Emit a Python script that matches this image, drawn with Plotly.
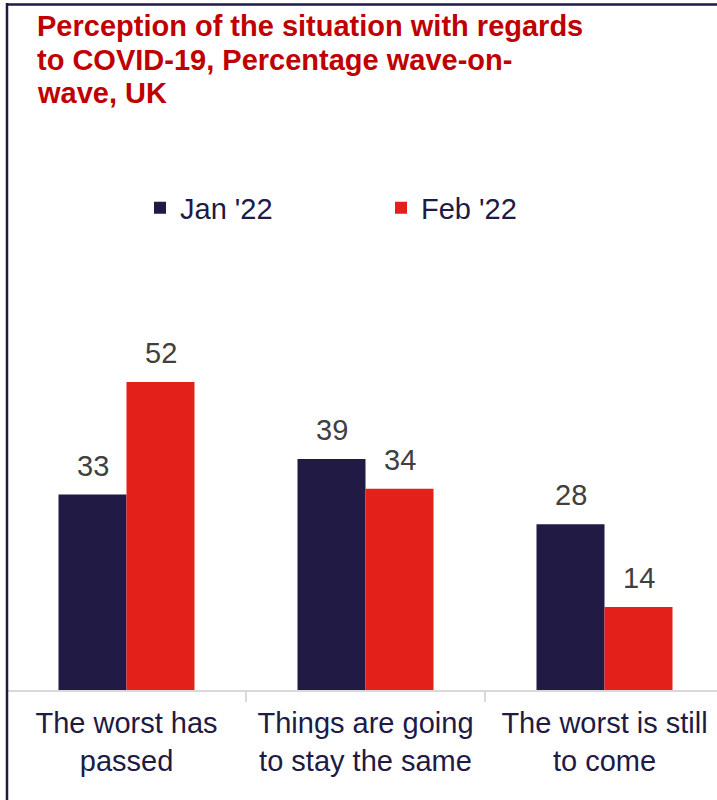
import plotly.graph_objects as go

# Survey answers and the two waves
categories = ["The worst has<br>passed", "Things are going<br>to stay the same", "The worst is still<br>to come"]
series_names = ["Jan '22", "Feb '22"]
jan_values = [33, 39, 28]
feb_values = [52, 34, 14]
title_lines = ["Perception of the situation with regards", "to COVID-19, Percentage wave-on-", "wave, UK"]

NAVY = "#201a45"
RED = "#e3211a"
TITLE_RED = "#c00000"
FONT = "Arial, Liberation Sans, sans-serif"

BARGAP = 0.431
PLOT_TOP, PLOT_BOTTOM, PLOT_LEFT = 250, 690, 7  # plot area in px
PLOT_H = PLOT_BOTTOM - PLOT_TOP
PLOT_W = 717 - PLOT_LEFT
Y_MAX = 74.3


def py(px):
    """pixel row -> paper y"""
    return (PLOT_BOTTOM - px) / PLOT_H


def px_x(px):
    """pixel column -> paper x"""
    return (px - PLOT_LEFT) / PLOT_W


fig = go.Figure()
for name, vals, col in [(series_names[0], jan_values, NAVY), (series_names[1], feb_values, RED)]:
    fig.add_trace(go.Bar(
        name=name, x=categories, y=vals, marker=dict(color=col, line=dict(width=0)),
        hoverinfo="skip",
    ))

# value labels above each bar
half = (1 - BARGAP) / 4
for offs, vals in [(-half, jan_values), (half, feb_values)]:
    for i, v in enumerate(vals):
        fig.add_annotation(
            x=i + offs, y=v, text=str(v), showarrow=False, yanchor="bottom",
            yshift=11, font=dict(family=FONT, size=29, color="#404040"),
        )

# heading, one line per annotation for tighter leading
for k, line in enumerate(title_lines):
    fig.add_annotation(
        xref="paper", yref="paper", x=px_x(35), y=py(26 + 33.5 * k),
        xanchor="left", yanchor="middle", showarrow=False,
        text=f"<b>{line}</b>", font=dict(family=FONT, size=29, color=TITLE_RED),
        bgcolor="rgba(255,255,255,0)",
    )

# outer frame: left and top edges
fig.add_shape(type="line", xref="paper", yref="paper", x0=0, x1=0, y0=py(3), y1=py(800),
              line=dict(color=NAVY, width=2.5), layer="above")
fig.add_shape(type="line", xref="paper", yref="paper", x0=0, x1=1, y0=py(4.5), y1=py(4.5),
              line=dict(color=NAVY, width=2.5), layer="above")

fig.update_layout(
    width=717, height=800,
    margin=dict(l=PLOT_LEFT, r=0, t=PLOT_TOP, b=800 - PLOT_BOTTOM, pad=0),
    paper_bgcolor="white", plot_bgcolor="white",
    barmode="group", bargap=BARGAP, bargroupgap=0,
    font=dict(family=FONT, size=29, color=NAVY),
    legend=dict(
        orientation="h", x=px_x(140), xanchor="left", y=py(208), yanchor="middle",
        font=dict(family=FONT, size=29, color=NAVY), entrywidth=196, bgcolor="rgba(0,0,0,0)",
    ),
    showlegend=True,
    modebar=dict(bgcolor="rgba(0,0,0,0)"),
    xaxis=dict(
        range=[-0.5, -0.5 + PLOT_W / 239], showline=True, linecolor="#d9d9d9", linewidth=1.5,
        ticks="outside", tickson="boundaries", ticklen=10, tickcolor="#d9d9d9", tickwidth=1.5,
        ticklabelstandoff=7,
        tickfont=dict(family=FONT, size=29, color=NAVY), showgrid=False, zeroline=False,
        fixedrange=True,
    ),
    yaxis=dict(range=[0, Y_MAX], visible=False, showgrid=False, zeroline=False, fixedrange=True),
)

fig.write_html("out.html", config={"displayModeBar": False, "staticPlot": True})
